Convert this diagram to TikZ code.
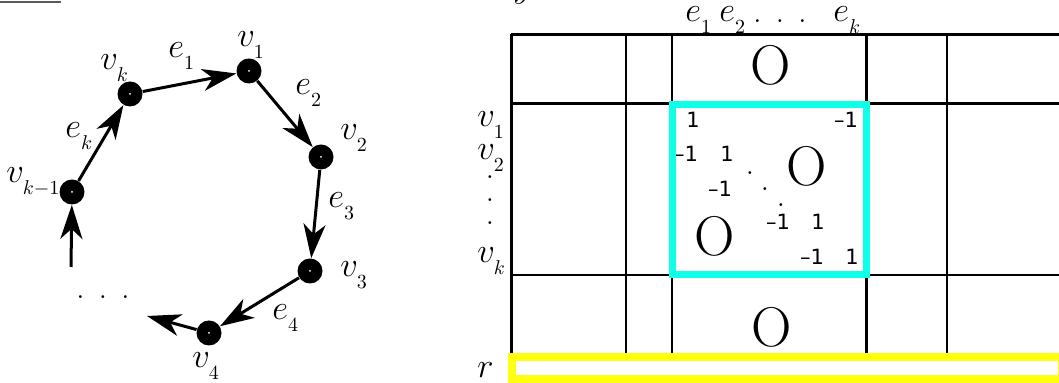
\documentclass[tikz,border=0pt]{standalone}
\usepackage{fontspec}
\usepackage{amsmath}
\usetikzlibrary{arrows.meta}
\newfontfamily\entryfont{DejaVu Sans}
\definecolor{boxcyan}{RGB}{16,255,232}
\definecolor{rowyellow}{RGB}{255,255,14}
\newcommand{\lowsub}[1]{_{\lower3pt\hbox{$\scriptscriptstyle #1$}}}
\tikzset{
  vert/.style={circle, fill=black, minimum size=12.5pt, inner sep=0pt},
  edgearrow/.style={line width=1.5pt, -{Stealth[length=17pt,width=11pt,inset=5pt]}},
  lbl/.style={anchor=base west, inner sep=0pt, font=\LARGE},
  entry/.style={inner sep=0pt, font=\entryfont\fontsize{10.5}{12}\selectfont},
  zeroblock/.style={inner sep=0pt, font=\fontsize{28}{30}\selectfont},
  gridline/.style={line width=1.3pt}
}

\begin{document}
\begin{tikzpicture}[x=0.5pt,y=-0.5pt]
\useasboundingbox (0,0) rectangle (1059,383);

% cut-off bits at the top
\draw[black!65, line width=1pt] (0,2.5) -- (61,2.5);
\node[lbl] (ytop) at (513,-2) {$y$};

% cycle
\node[vert] (v1) at (249,71) {};
\node[vert] (vk) at (130,94) {};
\node[vert] (v2) at (321,157) {};
\node[vert] (vkm) at (72,192) {};
\node[vert] (v3) at (310,271) {};
\node[vert] (v4) at (209,333) {};
\foreach \v in {v1,vk,v2,vkm,v3,v4}
  \fill[white] (\v) circle (0.5pt);

\coordinate (out4) at (147,316);
\coordinate (inkm) at (71,267);

\draw[edgearrow] (vk) -- (v1);
\draw[edgearrow] (v1) -- (v2);
\draw[edgearrow] (v2) -- (v3);
\draw[edgearrow] (v3) -- (v4);
\draw[edgearrow] (v4) -- (out4);
\draw[edgearrow] (inkm) -- (vkm);
\draw[edgearrow] (vkm) -- (vk);

\node[lbl] (lv1) at (237,47) {$v\lowsub{1}$};
\node[lbl] (lvk) at (100,70) {$v\lowsub{k}$};
\node[lbl] (lv2) at (340,140) {$v\lowsub{2}$};
\node[lbl] (lvkm) at (6,183) {$v\lowsub{k-1}$};
\node[lbl] (lv3) at (340,277) {$v\lowsub{3}$};
\node[lbl] (lv4) at (192,368) {$v\lowsub{4}$};
\node[lbl] (le1) at (168,58) {$e\lowsub{1}$};
\node[lbl] (le2) at (295,95) {$e\lowsub{2}$};
\node[lbl] (lek) at (65,138) {$e\lowsub{k}$};
\node[lbl] (le3) at (328,208) {$e\lowsub{3}$};
\node[lbl] (le4) at (272,320) {$e\lowsub{4}$};
\node[inner sep=0pt, font=\LARGE] (gap) at (103,297) {. . .};

% incidence matrix
\foreach \r in {34.5,103.5,275}
  \draw[gridline] (511,\r) -- (1065,\r);
\foreach \c in {511.5,626,672,866.5,947}
  \draw[gridline] (\c,34.5) -- (\c,356);

\node[lbl] (he1) at (685,22) {$e\lowsub{1}$};
\node[lbl] (he2) at (719,22) {$e\lowsub{2}$};
\node[inner sep=0pt, font=\LARGE] (hdots) at (780,21) {. . .};
\node[lbl] (hek) at (833,22) {$e\lowsub{k}$};

\node[lbl] (rv1) at (477,127) {$v\lowsub{1}$};
\node[lbl] (rv2) at (477,160) {$v\lowsub{2}$};
\node[inner sep=0pt, font=\LARGE, align=center] (rdots) at (490,200) {.\\[-10.5pt].\\[-10.5pt].};
\node[lbl] (rvk) at (477,263) {$v\lowsub{k}$};
\node[lbl] (rr) at (477,378) {$r$};

\node[zeroblock] (ztop) at (771,65) {O};
\node[zeroblock] (zup) at (807,166) {O};
\node[zeroblock] (zlow) at (715,236) {O};
\node[zeroblock] (zbot) at (772,327) {O};

\node[entry] (a11) at (693,120) {1};
\node[entry] (a1k) at (846,120) {\textendash1};
\node[entry] (a21) at (686,154) {\textendash1};
\node[entry] (a22) at (727,154) {1};
\node[entry] (a32) at (720,189) {\textendash1};
\foreach \a/\b [count=\i] in {750/173,765/189,781/205}
  \node[inner sep=0pt, font=\LARGE] (dd\i) at (\a,\b) {.};
\node[entry] (am1) at (778,222) {\textendash1};
\node[entry] (am2) at (818,222) {1};
\node[entry] (ak1) at (812,257) {\textendash1};
\node[entry] (ak2) at (852,257) {1};

\draw[boxcyan, line width=3.5pt] (672,104.5) rectangle (866.5,275);
\draw[rowyellow, line width=4pt] (512,357) rectangle (1062,379);
\end{tikzpicture}
\end{document}
